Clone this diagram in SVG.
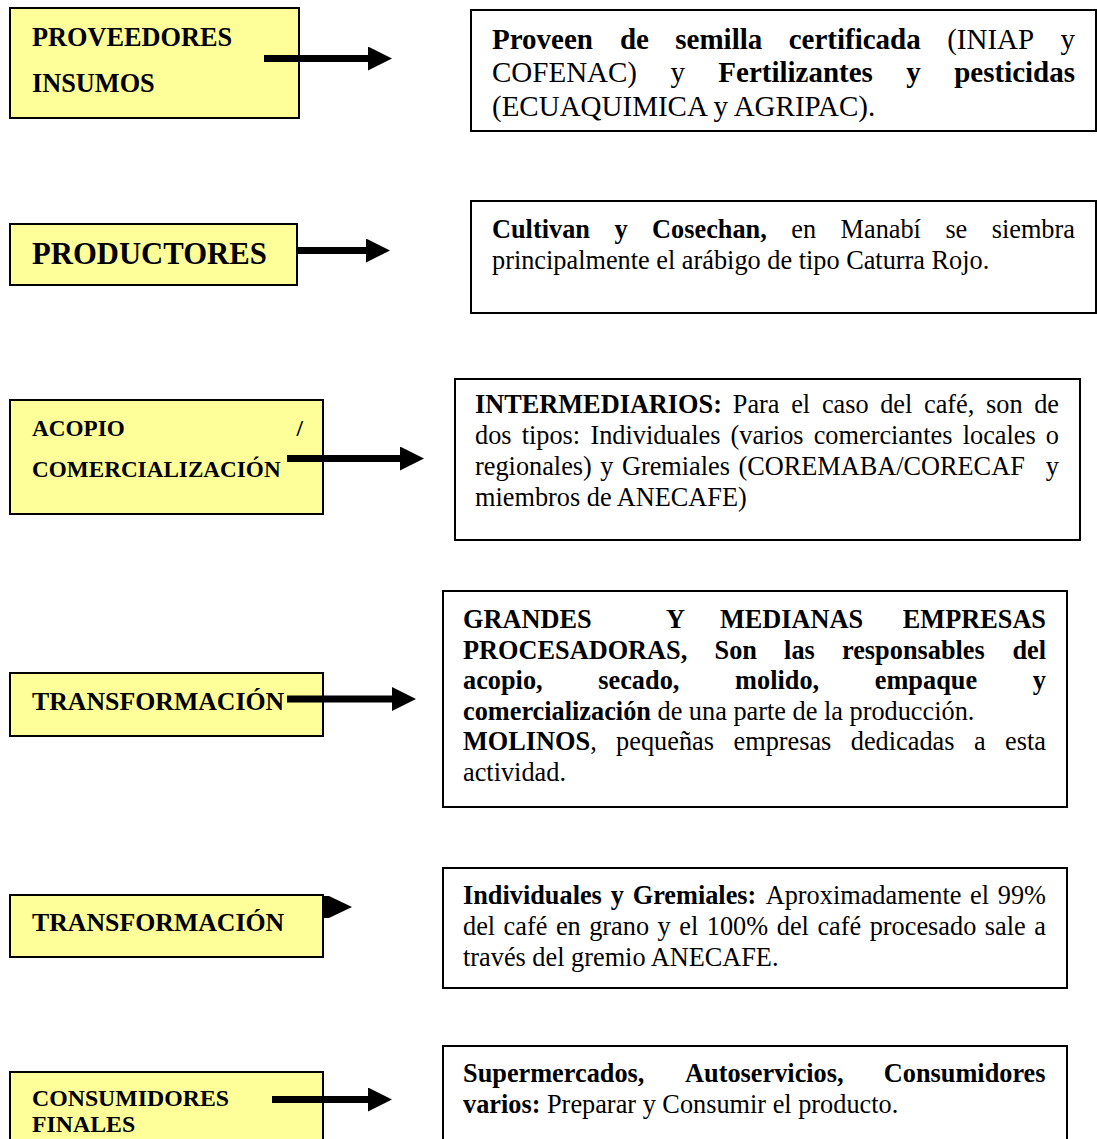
<svg xmlns="http://www.w3.org/2000/svg" width="1097" height="1139" viewBox="0 0 1097 1139">
  <style>
    text { font-family: "Liberation Serif", "Times New Roman", serif; fill: #000; }
    .stage { fill: #ffff99; stroke: #000; stroke-width: 2; }
    .info { fill: #fff; stroke: #000; stroke-width: 2; }
    .lbl { font-weight: bold; }
    .d { font-size: 26.3px; }
    .d1 { font-size: 29px; }
    .b { font-weight: bold; }
    .shaft { stroke: #000; stroke-width: 7; fill: none; }
  </style>
  <defs>
    <marker id="head" viewBox="0 0 24 24" markerWidth="24" markerHeight="24" markerUnits="userSpaceOnUse" refX="1" refY="12" orient="auto">
      <path d="M0,0 L24,12 L0,24 z" fill="#000"/>
    </marker>
  </defs>

  <rect width="1097" height="1139" fill="#fff"/>

  <!-- Stage boxes (left column) -->
  <g id="proveedores">
    <rect class="stage" x="10" y="8" width="289" height="110"/>
    <text class="lbl" x="32" y="46" font-size="26.3">PROVEEDORES</text>
    <text class="lbl" x="32" y="92" font-size="26.3">INSUMOS</text>
  </g>
  <g id="productores">
    <rect class="stage" x="10" y="224" width="287" height="61"/>
    <text class="lbl" x="32" y="264" font-size="30.7">PRODUCTORES</text>
  </g>
  <g id="acopio">
    <rect class="stage" x="10" y="400" width="313" height="114"/>
    <text class="lbl" x="32" y="436" font-size="23.2">ACOPIO</text>
    <text class="lbl" x="303" y="436" font-size="23.2" text-anchor="end">/</text>
    <text class="lbl" x="32" y="477" font-size="23.2">COMERCIALIZACIÓN</text>
  </g>
  <g id="transformacion-1">
    <rect class="stage" x="10" y="673" width="313" height="63"/>
    <text class="lbl" x="32" y="710" font-size="25.8">TRANSFORMACIÓN</text>
  </g>
  <g id="transformacion-2">
    <rect class="stage" x="10" y="895" width="313" height="62"/>
    <text class="lbl" x="32" y="931" font-size="25.8">TRANSFORMACIÓN</text>
  </g>
  <g id="consumidores">
    <rect class="stage" x="10" y="1072" width="313" height="80"/>
    <text class="lbl" x="32" y="1106" font-size="23.8">CONSUMIDORES</text>
    <text class="lbl" x="32" y="1132" font-size="23.8">FINALES</text>
  </g>

  <!-- Description boxes (right column) -->
  <g id="desc-proveedores">
    <rect class="info" x="471" y="10" width="625" height="121"/>
    <text class="d1" y="48.5"><tspan class="b" x="492">Proveen</tspan> <tspan class="b" x="619.9">de</tspan> <tspan class="b" x="675.3">semilla</tspan> <tspan class="b" x="788.7">certificada</tspan> <tspan x="947.2">(INIAP</tspan> <tspan x="1060.5">y</tspan></text>
    <text class="d1" y="82"><tspan x="492">COFENAC)</tspan> <tspan x="670.4">y</tspan> <tspan class="b" x="718.3">Fertilizantes</tspan> <tspan class="b" x="906.3">y</tspan> <tspan class="b" x="954.2">pesticidas</tspan></text>
    <text class="d1" x="492" y="115.5">(ECUAQUIMICA y AGRIPAC).</text>
  </g>
  <g id="desc-productores">
    <rect class="info" x="471" y="201" width="625" height="112"/>
    <text class="d" y="238"><tspan class="b" x="492">Cultivan</tspan> <tspan class="b" x="614.4">y</tspan> <tspan class="b" x="652.1">Cosechan,</tspan> <tspan x="791.3">en</tspan> <tspan x="840.6">Manabí</tspan> <tspan x="945.4">se</tspan> <tspan x="991.7">siembra</tspan></text>
    <text class="d" x="492" y="269">principalmente el arábigo de tipo Caturra Rojo.</text>
  </g>
  <g id="desc-acopio">
    <rect class="info" x="455" y="379" width="625" height="161"/>
    <text class="d" y="413"><tspan class="b" x="475">INTERMEDIARIOS:</tspan> <tspan x="732.8">Para</tspan> <tspan x="791.2">el</tspan> <tspan x="821.9">caso</tspan> <tspan x="880.2">del</tspan> <tspan x="924">café,</tspan> <tspan x="986.1">son</tspan> <tspan x="1034.2">de</tspan></text>
    <text class="d" y="444"><tspan x="475">dos</tspan> <tspan x="521.7">tipos:</tspan> <tspan x="590.4">Individuales</tspan> <tspan x="730.5">(varios</tspan> <tspan x="813.7">comerciantes</tspan> <tspan x="962.7">locales</tspan> <tspan x="1045.8">o</tspan></text>
    <text class="d" y="475"><tspan x="475">regionales)</tspan> <tspan x="600.3">y</tspan> <tspan x="621.9">Gremiales</tspan> <tspan x="738.4">(COREMABA/CORECAF</tspan> <tspan x="1045.8">y</tspan></text>
    <text class="d" x="475" y="506">miembros de ANECAFE)</text>
  </g>
  <g id="desc-transformacion-1">
    <rect class="info" x="443" y="591" width="624" height="216"/>
    <text class="d b" y="628"><tspan x="463">GRANDES</tspan> <tspan x="666">Y</tspan> <tspan x="720">MEDIANAS</tspan> <tspan x="902.8">EMPRESAS</tspan></text>
    <text class="d b" y="658.6"><tspan x="463">PROCESADORAS,</tspan> <tspan x="714.5">Son</tspan> <tspan x="784.1">las</tspan> <tspan x="842">responsables</tspan> <tspan x="1012.4">del</tspan></text>
    <text class="d b" y="689.2"><tspan x="463">acopio,</tspan> <tspan x="598.3">secado,</tspan> <tspan x="735.1">molido,</tspan> <tspan x="874.8">empaque</tspan> <tspan x="1032.8">y</tspan></text>
    <text class="d" x="463" y="719.8"><tspan class="b">comercialización</tspan> de una parte de la producción.</text>
    <text class="d" y="750.4"><tspan x="463"><tspan class="b">MOLINOS</tspan>,</tspan> <tspan x="616.1">pequeñas</tspan> <tspan x="733.5">empresas</tspan> <tspan x="850.8">dedicadas</tspan> <tspan x="974">a</tspan> <tspan x="1005.1">esta</tspan></text>
    <text class="d" x="463" y="781">actividad.</text>
  </g>
  <g id="desc-transformacion-2">
    <rect class="info" x="443" y="868" width="624" height="120"/>
    <text class="d" y="904"><tspan class="b" x="463">Individuales</tspan> <tspan class="b" x="610.7">y</tspan> <tspan class="b" x="632.7">Gremiales:</tspan> <tspan x="765.7">Aproximadamente</tspan> <tspan x="970.1">el</tspan> <tspan x="997.8">99%</tspan></text>
    <text class="d" y="935"><tspan x="463">del</tspan> <tspan x="503.6">café</tspan> <tspan x="555.9">en</tspan> <tspan x="589.2">grano</tspan> <tspan x="657.6">y</tspan> <tspan x="679.3">el</tspan> <tspan x="706.8">100%</tspan> <tspan x="776.8">del</tspan> <tspan x="817.4">café</tspan> <tspan x="869.7">procesado</tspan> <tspan x="984.8">sale</tspan> <tspan x="1034.3">a</tspan></text>
    <text class="d" x="463" y="966">través del gremio ANECAFE.</text>
  </g>
  <g id="desc-consumidores">
    <rect class="info" x="443" y="1046" width="624" height="110"/>
    <text class="d b" y="1082"><tspan x="463">Supermercados,</tspan> <tspan x="685.1">Autoservicios,</tspan> <tspan x="883.8">Consumidores</tspan></text>
    <text class="d" x="463" y="1113"><tspan class="b">varios:</tspan> Preparar y Consumir el producto.</text>
  </g>

  <!-- Connectors: thick block arrows from each stage to its description -->
  <g id="connectors">
    <line class="shaft" x1="264" y1="58.5" x2="369" y2="58.5" marker-end="url(#head)"/>
    <line class="shaft" x1="297" y1="250.5" x2="367" y2="250.5" marker-end="url(#head)"/>
    <line class="shaft" x1="287" y1="458.5" x2="401" y2="458.5" marker-end="url(#head)"/>
    <line class="shaft" x1="287" y1="699" x2="393" y2="699" marker-end="url(#head)"/>
    <polygon points="323,896 329,896 352,907 329,918 323,918" fill="#000"/>
    <line class="shaft" x1="272" y1="1099.5" x2="369" y2="1099.5" marker-end="url(#head)"/>
  </g>
</svg>
